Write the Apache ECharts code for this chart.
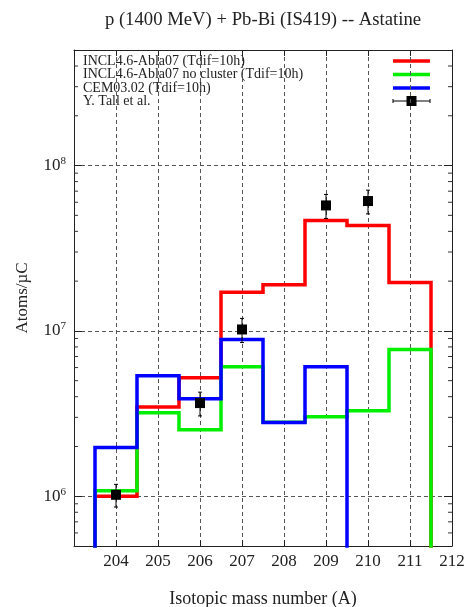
<!DOCTYPE html>
<html><head><meta charset="utf-8">
<script src="https://cdn.jsdelivr.net/npm/echarts@6/dist/echarts.min.js"></script>
<style>html,body{margin:0;padding:0;background:#fff}#c{width:469px;height:607px}</style>
</head><body><div id="c"></div>
<script>
// ---- data ----
const massNumbers = [204, 205, 206, 207, 208, 209, 210, 211];
const inclAbla = [1.0e6, 3.47e6, 5.2e6, 1.71e7, 1.9e7, 4.65e7, 4.34e7, 1.96e7];
const inclAblaNoCluster = [1.08e6, 3.2e6, 2.52e6, 6.06e6, 2.8e6, 3.03e6, 3.29e6, 7.72e6];
const cem = [1.97e6, 5.36e6, 3.89e6, 8.88e6, 2.79e6, 6.06e6, null, null];
const expMass = [204, 206, 207, 209, 210];
const expValue = [1.02e6, 3.66e6, 1.02e7, 5.74e7, 6.1e7];
const expError = [1.6e5, 6.0e5, 1.7e6, 9.5e6, 1.0e7];
const xTickLabels = [204, 205, 206, 207, 208, 209, 210, 211, 212];
const seriesNames = ['INCL4.6-Abla07 (Tdif=10h)', 'INCL4.6-Abla07 no cluster (Tdif=10h)', 'CEM03.02 (Tdif=10h)', 'Y. Tall et al.'];
const seriesColors = ['#ff0000', '#00ee00', '#0000ff', '#000000'];
const titleText = 'p (1400 MeV) + Pb-Bi (IS419) -- Astatine';
const xName = 'Isotopic mass number (A)';
const yName = 'Atoms/\u00b5C';
const xMin = 203, xMax = 212;
const yMin = 5e5, yMax = 5e8;

const SERIF = "'Liberation Serif', 'DejaVu Serif', serif";
const FLOOR = 1e3;

function stepLine(vals) {
  const pts = [];
  for (let i = 0; i < massNumbers.length; i++) {
    const v = vals[i];
    if (v == null) continue;
    const m = massNumbers[i];
    if (i === 0 || vals[i - 1] == null) pts.push([m - 0.5, FLOOR]);
    pts.push([m - 0.5, v]);
    pts.push([m + 0.5, v]);
    if (i === massNumbers.length - 1 || vals[i + 1] == null) pts.push([m + 0.5, FLOOR]);
  }
  return pts;
}

const minorTicks = [];
[1e5, 1e6, 1e7, 1e8].forEach(d => { for (let k = 2; k <= 9; k++) { const v = k * d; if (v > yMin && v < yMax) minorTicks.push([v]); } });

const expData = expMass.map((m, i) => [m, expValue[i], expError[i]]);

const chart = echarts.init(document.getElementById('c'), null, {renderer: 'canvas'});

function stepSeries(name, vals, color, z) {
  return {
    name, type: 'line', data: stepLine(vals), symbol: 'none', clip: true, z,
    lineStyle: {color, width: 3.5, join: 'miter', cap: 'butt'}, animation: false
  };
}

const legendGraphics = [];
const legendY = [61, 74.5, 88, 101];
seriesNames.forEach((n, i) => {
  legendGraphics.push({type: 'text', left: 83, top: legendY[i] - 7, style: {text: n, font: '14px ' + SERIF, fill: '#222'}});
  if (i < 3) {
    legendGraphics.push({type: 'line', shape: {x1: 393, y1: legendY[i], x2: 430, y2: legendY[i]}, style: {stroke: seriesColors[i], lineWidth: 3.5}});
  } else {
    legendGraphics.push({type: 'line', shape: {x1: 393, y1: legendY[i], x2: 430, y2: legendY[i]}, style: {stroke: '#000', lineWidth: 1}});
    legendGraphics.push({type: 'line', shape: {x1: 393, y1: legendY[i] - 2, x2: 393, y2: legendY[i] + 2}, style: {stroke: '#000', lineWidth: 1}});
    legendGraphics.push({type: 'line', shape: {x1: 430, y1: legendY[i] - 2, x2: 430, y2: legendY[i] + 2}, style: {stroke: '#000', lineWidth: 1}});
    legendGraphics.push({type: 'rect', shape: {x: 406.5, y: legendY[i] - 5, width: 10, height: 10}, style: {fill: '#000'}});
  }
});

const axisColor = '#222';
const option = {
  animation: false,
  backgroundColor: '#fff',
  title: {
    text: titleText, left: 258, top: 6, textAlign: 'center',
    textStyle: {fontFamily: SERIF, fontSize: 18.7, fontWeight: 'normal', color: '#222'}
  },
  grid: {left: 74, right: 17, top: 50, bottom: 61, containLabel: false, outerBoundsMode: 'none'},
  xAxis: [{
    type: 'value', min: xMin, max: xMax, interval: 1, position: 'bottom',
    name: xName, nameLocation: 'middle', nameGap: 44,
    nameTextStyle: {fontFamily: SERIF, fontSize: 18, color: '#222'},
    axisLine: {show: true, lineStyle: {color: axisColor, width: 1}},
    axisTick: {show: true, inside: true, length: 6, lineStyle: {color: axisColor}},
    axisLabel: {show: true, margin: 7, hideOverlap: false, minMargin: 0, customValues: xTickLabels,
      showMinLabel: true, showMaxLabel: true,
      fontFamily: SERIF, fontSize: 17, color: '#222',
      formatter: v => String(v)},
    splitLine: {show: true, lineStyle: {color: '#555', width: 1, type: [4, 3]}}
  }, {
    type: 'value', min: xMin, max: xMax, interval: 1, position: 'top',
    axisLine: {show: true, lineStyle: {color: axisColor, width: 1}},
    axisTick: {show: true, inside: true, length: 6, lineStyle: {color: axisColor}},
    axisLabel: {show: false}, splitLine: {show: false}
  }],
  yAxis: [{
    type: 'log', logBase: 10, min: yMin, max: yMax, position: 'left',
    name: yName, nameLocation: 'middle', nameGap: 43, nameRotate: 90,
    nameTextStyle: {fontFamily: SERIF, fontSize: 17, color: '#222'},
    axisLine: {show: true, lineStyle: {color: axisColor, width: 1}},
    axisTick: {show: true, inside: true, length: 8, lineStyle: {color: axisColor}},
    axisLabel: {
      show: true, margin: 8,
      formatter: function (v) {
        const l = Math.log10(v), e = Math.round(l);
        if (Math.abs(l - e) > 1e-6) return '';
        return '{b|10}{s|' + e + '}';
      },
      rich: {
        b: {fontFamily: SERIF, fontSize: 17, color: '#222', lineHeight: 20},
        s: {fontFamily: SERIF, fontSize: 11, color: '#222', lineHeight: 11, verticalAlign: 'top'}
      }
    },
    splitLine: {show: true, lineStyle: {color: '#555', width: 1, type: [4, 3]}}
  }, {
    type: 'log', logBase: 10, min: yMin, max: yMax, position: 'right',
    axisLine: {show: true, lineStyle: {color: axisColor, width: 1}},
    axisTick: {show: true, inside: true, length: 8, lineStyle: {color: axisColor}},
    axisLabel: {show: false}, splitLine: {show: false}
  }],
  graphic: legendGraphics,
  series: [
    stepSeries(seriesNames[0], inclAbla, seriesColors[0], 2),
    stepSeries(seriesNames[1], inclAblaNoCluster, seriesColors[1], 3),
    stepSeries(seriesNames[2], cem, seriesColors[2], 4),
    {
      name: seriesNames[3], type: 'custom', data: expData, z: 5, clip: true,
      renderItem: function (params, api) {
        const x = api.value(0), y = api.value(1), e = api.value(2);
        const c = api.coord([x, y]);
        const t = api.coord([x, y + e]);
        const b = api.coord([x, y - e]);
        return {type: 'group', children: [
          {type: 'line', shape: {x1: c[0], y1: t[1], x2: c[0], y2: b[1]}, style: {stroke: '#000', lineWidth: 1}},
          {type: 'line', shape: {x1: c[0] - 2, y1: t[1], x2: c[0] + 2, y2: t[1]}, style: {stroke: '#000', lineWidth: 1}},
          {type: 'line', shape: {x1: c[0] - 2, y1: b[1], x2: c[0] + 2, y2: b[1]}, style: {stroke: '#000', lineWidth: 1}},
          {type: 'rect', shape: {x: c[0] - 5, y: c[1] - 5, width: 10, height: 10}, style: {fill: '#000'}}
        ]};
      }
    },
    {
      name: 'minorTicks', type: 'custom', data: minorTicks, z: 1, silent: true,
      renderItem: function (params, api) {
        const v = api.value(0);
        const l = api.coord([xMin, v]);
        const r = api.coord([xMax, v]);
        return {type: 'group', children: [
          {type: 'line', shape: {x1: l[0], y1: l[1], x2: l[0] + 4, y2: l[1]}, style: {stroke: '#333', lineWidth: 1}},
          {type: 'line', shape: {x1: r[0], y1: r[1], x2: r[0] - 4, y2: r[1]}, style: {stroke: '#333', lineWidth: 1}}
        ]};
      },
      encode: {y: 0}
    }
  ]
};
chart.setOption(option);
</script></body></html>
